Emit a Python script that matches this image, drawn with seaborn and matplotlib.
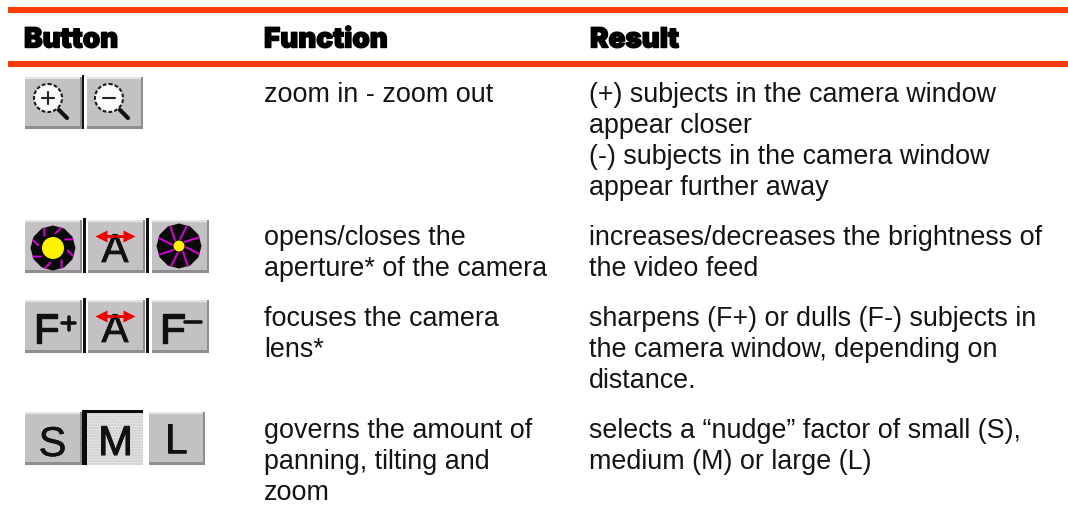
import numpy as np
import matplotlib
matplotlib.use("Agg")
import matplotlib.pyplot as plt
import matplotlib.patheffects as pe
from matplotlib.patches import Rectangle, Circle, RegularPolygon
import seaborn as sns

headers = ["Button", "Function", "Result"]
function_lines = [["zoom in - zoom out"],
                  ["opens/closes the", "aperture* of the camera"],
                  ["focuses the camera", "lens*"],
                  ["governs the amount of", "panning, tilting and", "zoom"]]
result_lines = [["(+) subjects in the camera window", "appear closer",
                 "(-) subjects in the camera window", "appear further away"],
                ["increases/decreases the brightness of", "the video feed"],
                ["sharpens (F+) or dulls (F-) subjects in", "the camera window, depending on", "distance."],
                ["selects a \u201cnudge\u201d factor of small (S),", "medium (M) or large (L)"]]
row_baselines = [102, 245, 326, 438]
line_step = 31
col_x = [24, 264, 590]
RULE = "#ff3c00"
FACE = "#c4c1c5"
INK = "#141414"

sns.set_theme(style="white")
plt.rcParams["font.family"] = ["Liberation Sans", "DejaVu Sans"]
fig = plt.figure(figsize=(10.68, 5.15), dpi=100)
ax = fig.add_axes([0, 0, 1, 1])
ax.set_xlim(0, 1068); ax.set_ylim(515, 0); ax.axis("off")

for y0 in (7, 61):
    ax.add_patch(Rectangle((8, y0), 1060, 6, fc=RULE, ec="none"))

for x, h in zip(col_x, headers):
    ax.text(x, 47.5, h, family=["Inter", "Liberation Sans"], fontsize=20, fontweight="black",
            color="black", va="baseline",
            path_effects=[pe.withStroke(linewidth=1.0, foreground="black")])

for lines, base in zip(function_lines, row_baselines):
    for i, t in enumerate(lines):
        ax.text(col_x[1], base + i * line_step, t, fontsize=19.4, color=INK, va="baseline")
for lines, base in zip(result_lines, row_baselines):
    for i, t in enumerate(lines):
        ax.text(col_x[2] - 1, base + i * line_step, t, fontsize=19.4, color=INK, va="baseline")


def button(x0, x1, y0, y1):
    ax.add_patch(Rectangle((x0, y0), x1 - x0, y1 - y0, fc=FACE, ec="none", zorder=2))
    ax.add_patch(Rectangle((x0, y0), x1 - x0, 1.5, fc="#e4e2e4", ec="none", zorder=3))
    ax.add_patch(Rectangle((x0, y1 - 3), x1 - x0, 3, fc="#8f8d90", ec="none", zorder=3))
    ax.add_patch(Rectangle((x1 - 2, y0), 2, y1 - y0, fc="#8f8d90", ec="none", zorder=3))


def divider(x, y0, y1):
    ax.add_patch(Rectangle((x, y0), 2.6, y1 - y0, fc="#111111", ec="none", zorder=4))


def lens(cx, cy, plus):
    ax.add_patch(Circle((cx, cy), 14, fc="#fbfbfb", ec="#1a1a1a", lw=1.5, ls=(0, (1.8, 1.0)), zorder=5))
    ax.plot([cx - 6, cx + 6], [cy, cy], color="#222222", lw=1.5, zorder=6)
    if plus:
        ax.plot([cx, cx], [cy - 6, cy + 6], color="#222222", lw=1.5, zorder=6)
    ax.plot([cx + 11, cx + 19], [cy + 12, cy + 20], color="#111111", lw=3.0, zorder=6, solid_capstyle="round")


def aperture(cx, cy, core, inner):
    ax.add_patch(RegularPolygon((cx, cy), 12, radius=22.5, fc="#0a0a0a", ec="none", zorder=5))
    ax.add_patch(Circle((cx, cy), core, fc="#fff200", ec="none", zorder=7))
    for a in np.deg2rad(np.arange(10, 370, 45)):
        ax.plot([cx + inner * np.cos(a), cx + 21.5 * np.cos(a + 0.2)],
                [cy + inner * np.sin(a), cy + 21.5 * np.sin(a + 0.2)],
                color="#d800d8", lw=1.4, zorder=6)


def a_icon(cx, y1):
    ax.text(cx, y1 - 11, "A", fontsize=29, color="#111111", ha="center", va="baseline", zorder=6,
            path_effects=[pe.withStroke(linewidth=0.6, foreground="#111111")])
    for s in (-1, 1):
        ax.plot([cx + 2 * s, cx + 12 * s], [y1 - 37, y1 - 37], color="#f00000", lw=2.2, zorder=7)
        ax.plot([cx + 14 * s], [y1 - 37], marker="<" if s < 0 else ">", ms=9, color="#f00000", mec="none", zorder=7)


def letter(cx, base, t, size=30, stroke=0.8):
    ax.text(cx, base, t, fontsize=size, color="#111111", ha="center", va="baseline", zorder=6,
            path_effects=[pe.withStroke(linewidth=stroke, foreground="#111111")])


# row 1
button(25, 81.5, 77, 129); button(87, 143, 77, 129); divider(81.7, 75, 129)
lens(48, 98, True); lens(109, 98, False)

# row 2
for a, b in ((25, 82), (88, 145), (151.5, 209)):
    button(a, b, 220, 273)
divider(83.3, 218, 273); divider(146.3, 218, 273)
aperture(53, 248, 11, 15); a_icon(115, 273); aperture(179, 246, 5.5, 7)

# row 3
for a, b in ((25, 82), (88, 145), (151.5, 209)):
    button(a, b, 300, 353)
divider(83.3, 298, 353); divider(146.3, 298, 353)
letter(46, 343, "F", 30, 1.0); a_icon(115, 353); letter(172.5, 343, "F", 30, 1.0)
ax.plot([62, 75], [323, 323], color="#111111", lw=2.6, zorder=7)
ax.plot([68.5, 68.5], [317, 330], color="#111111", lw=2.6, zorder=7)
ax.plot([185, 201], [322, 322], color="#111111", lw=2.6, zorder=7)

# row 4
button(25, 81.5, 412, 465); button(149, 205, 412, 465)
ax.add_patch(Rectangle((86, 412), 57, 53, fc="#e4e2e4", ec="#c9c6c9", lw=0, hatch="......", zorder=2))
ax.add_patch(Rectangle((82, 410), 61, 3.4, fc="#0a0a0a", ec="none", zorder=4))
ax.add_patch(Rectangle((82, 410), 4.5, 55, fc="#0a0a0a", ec="none", zorder=4))
letter(52.5, 456, "S", 30, 0.4); letter(115.5, 455, "M", 30, 0.8); letter(176, 453, "L", 30, 0.4)

fig.savefig("out.png", dpi=100, facecolor="white")
